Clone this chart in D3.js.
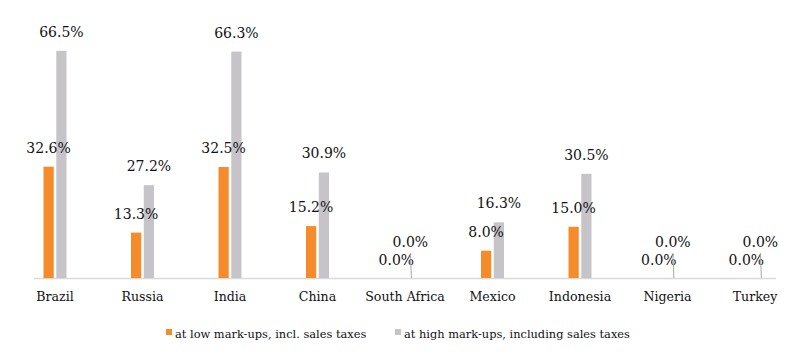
<!DOCTYPE html>
<html><head><meta charset="utf-8">
<script src="https://cdn.jsdelivr.net/npm/d3@7"></script>
<style>body{margin:0;background:#fff}svg{display:block}
svg text{font-family:"DejaVu Serif","Liberation Serif",serif;}</style>
</head><body>
<svg id="c" width="808" height="358"></svg>
<script>
const categories = ["Brazil","Russia","India","China","South Africa","Mexico","Indonesia","Nigeria","Turkey"];
const seriesNames = ["at low mark-ups, incl. sales taxes","at high mark-ups, including sales taxes"];
const lowValues  = [32.6, 13.3, 32.5, 15.2, 0.0, 8.0, 15.0, 0.0, 0.0];
const highValues = [66.5, 27.2, 66.3, 30.9, 0.0, 16.3, 30.5, 0.0, 0.0];
const colors = ["#F68B2B", "#C6C4C9"];

const svg = d3.select("#c");
const baseY = 278;
const x = d3.scaleBand().domain(categories).range([11.25, 798.75]).padding(0);
const sub = d3.scaleBand().domain([0,1]).range([-11.5, 11.5]).paddingInner(0.2);
const y = d3.scaleLinear().domain([0, 81.4]).range([baseY, 0]);

svg.append("line").attr("x1", 34).attr("x2", 776).attr("y1", baseY + 0.5).attr("y2", baseY + 0.5)
  .attr("stroke", "#D9D9D9").attr("stroke-width", 1.5);

const series = [lowValues, highValues];
series.forEach((vals, s) => {
  svg.append("g").selectAll("rect").data(vals).join("rect")
    .attr("x", (d, i) => x(categories[i]) + x.bandwidth() / 2 + sub(s))
    .attr("width", sub.bandwidth())
    .attr("y", d => y(d))
    .attr("height", d => baseY - y(d))
    .attr("fill", colors[s]);
});

const fmt = v => v.toFixed(1) + "%";
series.forEach((vals, s) => {
  vals.forEach((v, i) => {
    const cx = x(categories[i]) + x.bandwidth() / 2 + sub(s) + sub.bandwidth() / 2;
    let lx = cx, ly = y(v) - 14;
    if (v === 0) {
      const gx = x(categories[i]) + x.bandwidth() / 2 + sub(1) + sub.bandwidth() / 2;
      if (s === 0) { lx = gx - 15; ly = 265; }
      else {
        lx = gx - 1; ly = 247;
        svg.append("line").attr("x1", gx - 1).attr("y1", 253).attr("x2", gx).attr("y2", baseY)
          .attr("stroke", "#A6A6A6").attr("stroke-width", 1);
      }
    }
    svg.append("text").attr("x", lx).attr("y", ly).attr("text-anchor", "middle")
      .attr("font-size", 14).attr("fill", "#111").text(fmt(v));
  });
});

svg.append("g").selectAll("text").data(categories).join("text")
  .attr("x", d => x(d) + x.bandwidth() / 2).attr("y", 301)
  .attr("text-anchor", "middle").attr("font-size", 12.6).attr("fill", "#111")
  .text(d => d);

const legX = [166, 395];
seriesNames.forEach((n, s) => {
  svg.append("rect").attr("x", legX[s]).attr("y", 329).attr("width", 6).attr("height", 6).attr("fill", colors[s]);
  svg.append("text").attr("x", legX[s] + 9).attr("y", 338).attr("font-size", 11.4)
    .attr("fill", "#111").text(n);
});
</script>
</body></html>
